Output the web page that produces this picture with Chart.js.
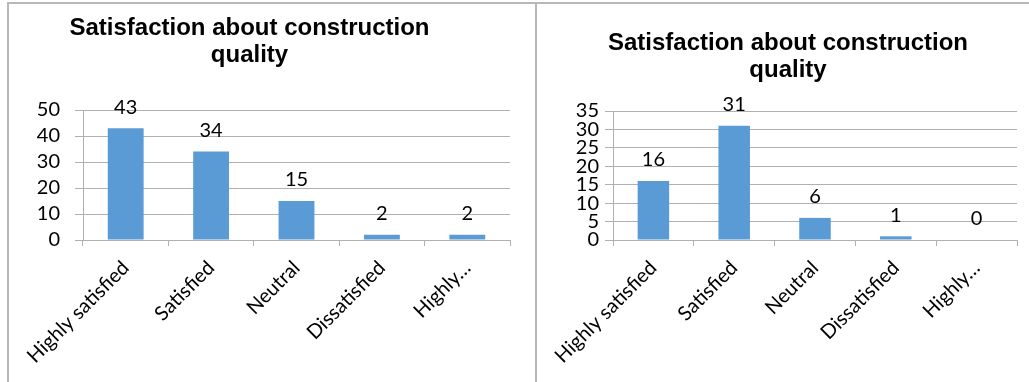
<!DOCTYPE html>
<html>
<head>
<meta charset="utf-8">
<script src="https://cdn.jsdelivr.net/npm/chart.js@4/dist/chart.umd.min.js"></script>
<style>
  html, body { margin: 0; padding: 0; background: #ffffff; }
  body { width: 1029px; height: 382px; position: relative; overflow: hidden; }
  .frame { position: absolute; background: #b8b8b8; }
  .wrap { position: absolute; }
  .wrap canvas { display: block; }
</style>
</head>
<body>
<div class="frame" style="left:7px; top:2px; width:1022px; height:2px;"></div>
<div class="frame" style="left:7px; top:2px; width:2px; height:380px;"></div>
<div class="frame" style="left:535px; top:2px; width:2px; height:380px;"></div>

<div class="wrap" id="wrapA" style="left:-11px; top:4px; width:546px; height:378px;"><canvas id="chartA"></canvas></div>
<div class="wrap" id="wrapB" style="left:540px; top:4px; width:489px; height:378px;"><canvas id="chartB"></canvas></div>

<script>
// Survey responses on construction quality, two respondent groups
const categories = ['Highly satisfied', 'Satisfied', 'Neutral', 'Dissatisfied', 'Highly dissatisfied'];
const tickLabels = ['Highly satisfied', 'Satisfied', 'Neutral', 'Dissatisfied', 'Highly\u2026'];
const groupA = [43, 34, 15, 2, 2];
const groupB = [16, 31, 6, 1, 0];
const titleLines = ['Satisfaction about construction', 'quality'];

const BAR_BLUE = '#5b9bd5';
const GRID_GREY = '#b0b0b0';
const LABEL_FONT = { family: 'Lato, "Open Sans", sans-serif', size: 20 };

// Writes each bar's value just above it
const valueLabels = {
  id: 'valueLabels',
  afterDatasetsDraw(chart) {
    const ctx = chart.ctx;
    ctx.save();
    ctx.font = '20px Lato, "Open Sans", sans-serif';
    ctx.fillStyle = '#000000';
    ctx.textAlign = 'center';
    ctx.textBaseline = 'middle';
    chart.data.datasets.forEach((ds, di) => {
      chart.getDatasetMeta(di).data.forEach((bar, i) => {
        ctx.fillText(String(ds.data[i]), bar.x, bar.y - 21);
      });
    });
    ctx.restore();
  }
};

function buildChart(canvasId, values, cfg) {
  return new Chart(document.getElementById(canvasId), {
    type: 'bar',
    data: {
      labels: tickLabels,
      datasets: [{
        label: 'Respondents',
        data: values,
        backgroundColor: BAR_BLUE,
        borderWidth: 0,
        categoryPercentage: 1,
        barPercentage: cfg.barPct
      }]
    },
    options: {
      responsive: true,
      maintainAspectRatio: false,
      animation: false,
      layout: { padding: { left: cfg.padLeft, right: cfg.padRight, top: 0, bottom: 0 } },
      plugins: {
        legend: { display: false },
        tooltip: { enabled: false },
        title: {
          display: true,
          text: titleLines,
          color: '#000000',
          font: { family: '"Liberation Sans", Arial, sans-serif', size: 24, weight: 'bold', lineHeight: 1.125 },
          padding: { top: cfg.titleTop, bottom: cfg.titleBottom }
        }
      },
      scales: {
        x: {
          grid: { offset: true, drawOnChartArea: false, drawTicks: true, tickLength: 6, color: GRID_GREY },
          border: { display: true, color: GRID_GREY, width: 1 },
          ticks: {
            autoSkip: false, minRotation: 45, maxRotation: 45,
            color: '#000000', font: LABEL_FONT, padding: 10
          },
          afterFit(scale) {
            scale.height = cfg.xHeight;
            // slanted labels may hang past the plot edges; keep the plot box fixed
            scale.paddingLeft = 0;
            scale.paddingRight = 0;
          }
        },
        y: {
          min: 0, max: cfg.max,
          grid: { color: GRID_GREY, lineWidth: 1, drawTicks: true, tickLength: 8 },
          border: { display: true, color: GRID_GREY, width: 1 },
          ticks: { autoSkip: false, stepSize: cfg.step, color: '#000000', font: LABEL_FONT, padding: cfg.yPad },
          afterFit(scale) { scale.width = cfg.yWidth; }
        }
      }
    },
    plugins: [valueLabels]
  });
}

buildChart('chartA', groupA, {
  max: 50, step: 10, barPct: 0.42,
  padLeft: 0, padRight: 25, yWidth: 94, yPad: 15, xHeight: 142,
  titleTop: 10.5, titleBottom: 41.5
});

buildChart('chartB', groupB, {
  max: 35, step: 5, barPct: 0.39,
  padLeft: 19, padRight: 12, yWidth: 54, yPad: 6, xHeight: 142,
  titleTop: 25.5, titleBottom: 27.5
});
</script>
</body>
</html>
